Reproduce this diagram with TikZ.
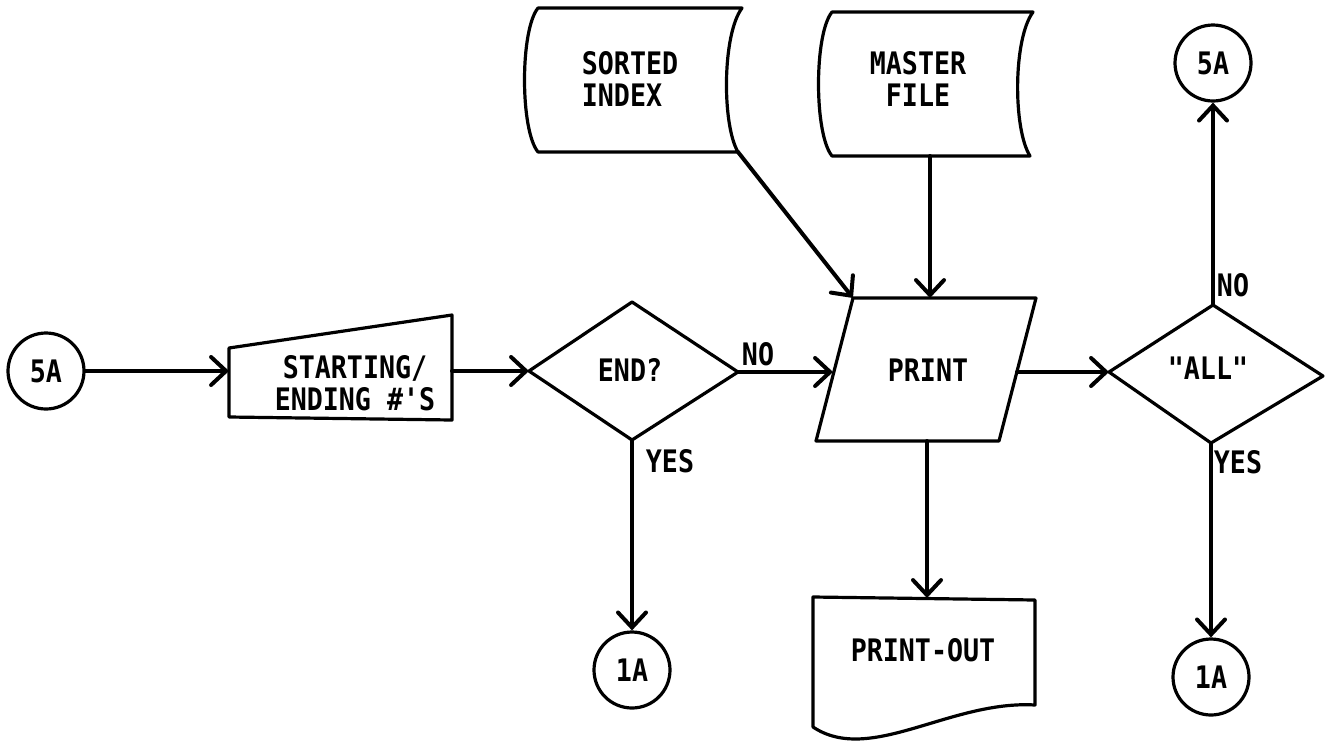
\documentclass[tikz,border=0pt]{standalone}
\usepackage{fontspec}
\newfontfamily\flowfont{DejaVu Sans Mono Bold}[FakeStretch=0.86,Ligatures=TeXOff]
\usetikzlibrary{arrows.meta}

\begin{document}
\begin{tikzpicture}[x=0.5pt,y=-0.5pt,
  shapeline/.style={line width=1.6pt, line join=round},
  flow/.style={line width=2pt, line cap=round,
    -{Straight Barb[length=7.5pt,width=14pt,line cap=round]}},
  lbl/.style={font=\flowfont\fontsize{15.5}{16}\selectfont, inner sep=0pt, align=center},
  conn/.style={circle, draw, line width=1.6pt, minimum size=38pt, inner sep=0pt,
    font=\flowfont\fontsize{15.5}{16}\selectfont}]

\useasboundingbox (0,0) rectangle (1328,740);

% entry connector
\node[conn] (s5a) at (46,371) {5A};

% manual input: starting/ending numbers
\coordinate (miL) at (229,371);
\coordinate (miR) at (452,371);
\draw[shapeline] (229,348) -- (452,315) -- (452,420) -- (229,417) -- cycle;
\node[lbl] (mi) at (355,383) {STARTING/\\ENDING \#'S};
\draw[flow] (s5a) -- (miL);

% decision: end?
\coordinate (eT) at (632,302);
\coordinate (eR) at (738,372);
\coordinate (eB) at (632,440);
\coordinate (eL) at (529,371);
\draw[shapeline] (eT) -- (eR) -- (eB) -- (eL) -- cycle;
\node[lbl] (endq) at (630,370) {END?};
\draw[flow] (miR) -- (eL);
\node[lbl] (endno) at (758,354) {NO};
\node[lbl] (endyes) at (670,461) {YES};
\node[conn] (c1a) at (632,670) {1A};
\draw[flow] (eB) -- (c1a);

% stored data: sorted index
\draw[shapeline] (538,8) -- (742,8)
  .. controls (722,35) and (722,125) .. (738,152) -- (538,152)
  .. controls (520,130) and (520,30) .. cycle;
\coordinate (sBR) at (738,152);
\node[lbl, align=left] (sidx) at (630,79) {SORTED\\INDEX};

% stored data: master file
\draw[shapeline] (832,12) -- (1033,12)
  .. controls (1013,39) and (1013,129) .. (1030,156) -- (832,156)
  .. controls (814,134) and (814,34) .. cycle;
\coordinate (mB) at (930,156);
\node[lbl] (mfile) at (918,79) {MASTER\\FILE};

% print step
\coordinate (pTL) at (853,298);
\coordinate (pTR) at (1036,298);
\coordinate (pBR) at (999,441);
\coordinate (pBL) at (816,441);
\coordinate (pL) at (833,372);
\coordinate (pR) at (1017,372);
\coordinate (pT) at (930,298);
\coordinate (pB) at (927,441);
\draw[shapeline] (pTL) -- (pTR) -- (pBR) -- (pBL) -- cycle;
\node[lbl] (print) at (928,370) {PRINT};
\draw[flow] (eR) -- (pL);
\draw[flow] (sBR) -- (pTL);
\draw[flow] (mB) -- (pT);

% document: print-out
\coordinate (dT) at (927,598);
\draw[shapeline] (813,597) -- (1035,600) -- (1035,705)
  .. controls (950,700) and (870,765) .. (813,727) -- cycle;
\node[lbl] (pout) at (923,650) {PRINT-OUT};
\draw[flow] (pB) -- (dT);

% decision: "all"
\coordinate (aT) at (1213,305);
\coordinate (aR) at (1323,376);
\coordinate (aB) at (1211,443);
\coordinate (aL) at (1109,372);
\draw[shapeline] (aT) -- (aR) -- (aB) -- (aL) -- cycle;
\node[lbl] (allq) at (1208,368) {"ALL"};
\draw[flow] (pR) -- (aL);
\node[lbl] (allno) at (1233,285) {NO};
\node[lbl] (allyes) at (1238,462) {YES};
\node[conn] (c5b) at (1213,63) {5A};
\node[conn] (c1b) at (1211,677) {1A};
\draw[flow] (aT) -- (c5b);
\draw[flow] (aB) -- (c1b);

\end{tikzpicture}
\end{document}
